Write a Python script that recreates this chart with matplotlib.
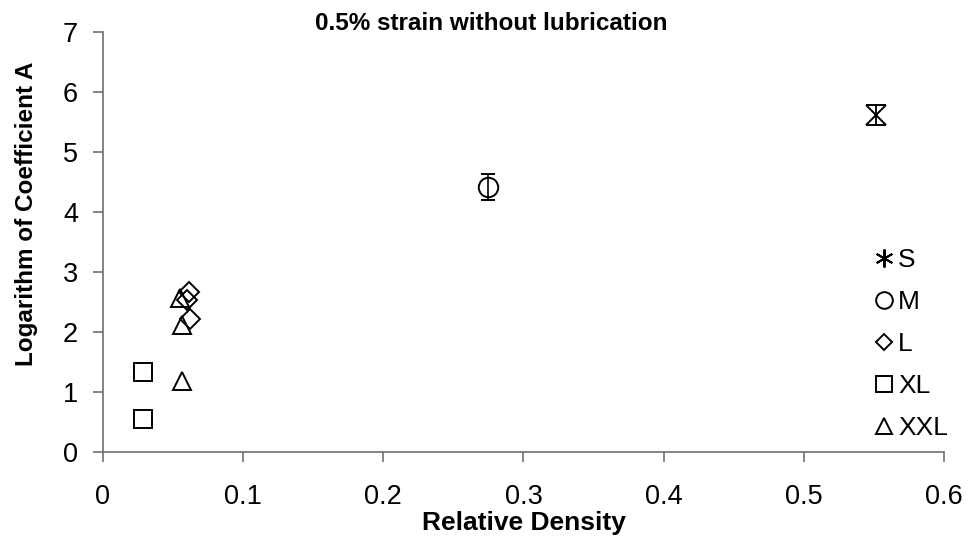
import matplotlib.pyplot as plt
from matplotlib.lines import Line2D

plt.rcParams['font.family'] = ['Liberation Sans', 'DejaVu Sans']

# relative density and log(A) per cell size group
s_density = [0.5515]
s_logA = [5.62]
s_err = [0.17]

m_density = [0.2747]
m_logA = [4.42]
m_err = [0.22]

l_density = [0.0614, 0.060, 0.062]
l_logA = [2.67, 2.53, 2.22]

xl_density = [0.0285, 0.0285]
xl_logA = [1.34, 0.55]

xxl_density = [0.055, 0.0564, 0.0564]
xxl_logA = [2.56, 2.12, 1.18]

group_labels = ["S", "M", "L", "XL", "XXL"]

fig = plt.figure(figsize=(9.68, 5.52), dpi=100)
ax = fig.add_axes([0.1064, 0.181, 0.8688, 0.761])

mew = 1.4
style = dict(linestyle="none", color="black", mfc="none", mew=mew)
asterisk = (6, 2, 0)

ax.errorbar(s_density, s_logA, yerr=s_err, marker="x", ms=14, capsize=7,
            elinewidth=1.3, capthick=1.4, **style)
ax.errorbar(m_density, m_logA, yerr=m_err, marker="o", ms=14, capsize=5,
            elinewidth=1.2, capthick=1.2, **style)
ax.plot(l_density, l_logA, marker="D", ms=9.8, **style)
ax.plot(xl_density, xl_logA, marker="s", ms=13.5, **style)
ax.plot(xxl_density, xxl_logA, marker="^", ms=13.5, **style)

ax.set_xlim(0, 0.6)
ax.set_ylim(0, 7)
ax.set_xticks([0, 0.1, 0.2, 0.3, 0.4, 0.5, 0.6])
ax.set_xticklabels(["0", "0.1", "0.2", "0.3", "0.4", "0.5", "0.6"])
ax.set_yticks(range(0, 8))

for side in ("top", "right"):
    ax.spines[side].set_visible(False)
for side in ("left", "bottom"):
    ax.spines[side].set_color("#707070")
    ax.spines[side].set_linewidth(1.2)
ax.tick_params(direction="out", length=7, width=1.2, color="#707070",
               labelsize=19.5)
ax.tick_params(axis="x", pad=16)
ax.tick_params(axis="y", pad=11)

ax.set_xlabel("Relative Density", fontsize=19, fontweight="bold", labelpad=1)
ax.set_ylabel("Logarithm of Coefficient A", fontsize=17.5, fontweight="bold")
ax.yaxis.set_label_coords(-0.0773, 0.568)

fig.text(0.507, 1 - 30 / 552, "0.5% strain without lubrication",
         fontsize=17.5, fontweight="bold", ha="center", va="baseline")

# legend shows bare markers only
handles = [
    Line2D([], [], marker=asterisk, ms=13, **style),
    Line2D([], [], marker="o", ms=12, **style),
    Line2D([], [], marker="D", ms=8.5, **style),
    Line2D([], [], marker="s", ms=12, **style),
    Line2D([], [], marker="^", ms=12, **style),
]
ax.legend(handles, group_labels, loc="lower left",
          bbox_to_anchor=(0.903, 0.004), frameon=False, fontsize=19,
          handlelength=0.8, handletextpad=0.15, labelspacing=0.68,
          borderaxespad=0)

fig.savefig("out.png", dpi=100)
